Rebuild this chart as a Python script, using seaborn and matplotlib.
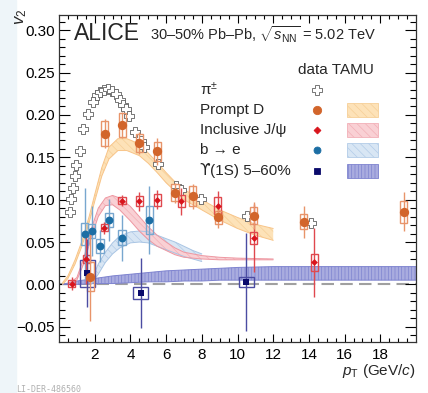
import matplotlib
matplotlib.use("Agg")
import matplotlib.pyplot as plt
from matplotlib.patches import Rectangle
import pandas as pd
import seaborn as sns

# pi+- data (open crosses)
pi_pt = [0.59, 0.70, 0.81, 0.87, 0.98, 1.15, 1.37, 1.65, 1.93, 2.15, 2.32, 2.54, 2.77, 2.99,
         3.21, 3.44, 3.60, 3.77, 3.94, 4.27, 4.61, 4.78, 5.56, 6.56, 6.84, 7.96, 10.53, 14.10]
pi_v2 = [0.086, 0.101, 0.114, 0.128, 0.141, 0.158, 0.184, 0.201, 0.215, 0.224, 0.227, 0.229, 0.231, 0.228,
         0.225, 0.218, 0.212, 0.207, 0.199, 0.180, 0.169, 0.162, 0.142, 0.116, 0.112, 0.101, 0.081, 0.072]

# prompt D
d_pt = [1.76, 2.56, 3.55, 4.50, 5.50, 6.50, 7.50, 8.93, 10.90, 13.70, 19.30]
d_v2 = [0.009, 0.178, 0.188, 0.167, 0.157, 0.108, 0.104, 0.079, 0.081, 0.074, 0.086]
d_stat = [0.052, 0.017, 0.015, 0.013, 0.016, 0.012, 0.015, 0.012, 0.016, 0.019, 0.023]
d_syst = [0.017, 0.015, 0.014, 0.011, 0.011, 0.010, 0.012, 0.008, 0.010, 0.009, 0.013]

# inclusive J/psi
j_pt = [0.72, 1.52, 2.53, 3.53, 4.50, 5.50, 6.85, 8.90, 10.90, 14.30]
j_v2 = [0.001, 0.030, 0.067, 0.099, 0.098, 0.100, 0.098, 0.093, 0.055, 0.026]
j_stat = [0.008, 0.030, 0.007, 0.007, 0.011, 0.011, 0.016, 0.017, 0.040, 0.041]
j_syst = [0.004, 0.005, 0.004, 0.004, 0.006, 0.007, 0.007, 0.010, 0.007, 0.010]

# b -> e
b_pt = [1.45, 1.83, 2.30, 2.80, 3.53, 5.07]
b_v2 = [0.059, 0.063, 0.045, 0.076, 0.055, 0.076]
b_stat = [0.055, 0.030, 0.019, 0.025, 0.027, 0.040]
b_syst = [0.013, 0.008, 0.008, 0.008, 0.009, 0.017]

# Upsilon(1S) 5-60%
u_pt = [1.58, 4.57, 10.50]
u_v2 = [0.013, -0.010, 0.003]
u_stat = [0.040, 0.041, 0.058]
u_syst = [0.016, 0.007, 0.006]

# TAMU bands
tamu_d_pt = [0.2, 0.5, 0.9, 1.3, 1.7, 2.0, 2.4, 2.8, 3.3, 3.8, 4.5, 5.0, 5.5, 6.0, 6.5, 7.0, 8.0, 9.0, 10.0, 11.0, 12.0]
tamu_d_lo = [0.000, 0.007, 0.024, 0.046, 0.074, 0.098, 0.128, 0.148, 0.158, 0.158, 0.152, 0.143, 0.132, 0.120,
             0.110, 0.100, 0.088, 0.076, 0.066, 0.058, 0.052]
tamu_d_hi = [0.002, 0.010, 0.029, 0.052, 0.081, 0.106, 0.138, 0.162, 0.172, 0.172, 0.166, 0.155, 0.144, 0.132,
             0.121, 0.112, 0.100, 0.088, 0.079, 0.071, 0.066]

tamu_j_pt = [0.6, 1.0, 1.4, 1.8, 2.2, 2.6, 3.0, 3.4, 4.0, 4.5, 5.0, 5.5, 6.0, 6.5, 7.0, 8.0, 9.0, 10.0, 12.0]
tamu_j_lo = [0.000, 0.005, 0.025, 0.055, 0.080, 0.093, 0.094, 0.088, 0.075, 0.063, 0.053, 0.045, 0.040, 0.035,
             0.032, 0.030, 0.029, 0.029, 0.029]
tamu_j_hi = [0.002, 0.008, 0.032, 0.065, 0.090, 0.102, 0.105, 0.102, 0.092, 0.080, 0.068, 0.058, 0.050, 0.043,
             0.038, 0.034, 0.032, 0.031, 0.030]

tamu_b_pt = [1.8, 2.2, 2.6, 3.0, 3.4, 4.0, 4.5, 5.0, 5.5, 6.0, 6.5, 7.0, 7.5, 8.0]
tamu_b_lo = [0.000, 0.012, 0.026, 0.036, 0.043, 0.049, 0.050, 0.049, 0.045, 0.041, 0.037, 0.033, 0.030, 0.027]
tamu_b_hi = [0.004, 0.024, 0.038, 0.049, 0.057, 0.062, 0.063, 0.062, 0.058, 0.054, 0.050, 0.045, 0.040, 0.036]

tamu_u_pt = [0.2, 1.0, 2.0, 3.0, 4.0, 5.0, 6.0, 7.0, 8.0, 9.0, 10.0, 12.0, 14.0, 16.0, 18.0, 20.0]
tamu_u_lo = [0.000, 0.000, 0.001, 0.001, 0.002, 0.003, 0.003, 0.004, 0.004, 0.005, 0.005, 0.005, 0.005, 0.005, 0.005, 0.005]
tamu_u_hi = [0.000, 0.004, 0.007, 0.010, 0.012, 0.014, 0.016, 0.017, 0.018, 0.019, 0.020, 0.021, 0.021, 0.021, 0.021, 0.021]

sns.set_theme(style="ticks")
plt.rcParams['font.family'] = ['Liberation Sans', 'DejaVu Sans']
plt.rcParams['mathtext.fontset'] = 'custom'
plt.rcParams['mathtext.rm'] = 'Liberation Sans'
plt.rcParams['mathtext.it'] = 'Liberation Sans:italic'
plt.rcParams['hatch.linewidth'] = 0.5

W, H = 428, 393
fig = plt.figure(figsize=(W / 100, H / 100), dpi=100)
fig.patch.set_facecolor('white')
fig.patches.append(Rectangle((0, 0), 16 / W, 1, transform=fig.transFigure, color='#eef5f9', zorder=-10))
ax = fig.add_axes([59 / W, 1 - 342 / H, 357 / W, 327 / H])

# colours: (marker, box/err, band fill, band hatch, band edge)
col_d = ('#d2652b', '#e8946a', '#fde2b8', '#f6cf98', '#f8c488')
col_j = ('#d8141c', '#e0484e', '#f9d0d4', '#f2b0b7', '#ee98a2')
col_b = ('#1c6ea4', '#78a7cf', '#d8e6f4', '#b3cce8', '#a9c5e4')
col_u = ('#0b0b6b', '#4b4ca2', '#a9acdf', '#7e83cf', '#7e83cf')

ax.axhline(0, color='#a0a0a0', lw=1.5, ls=(0, (6, 3)), zorder=0.5)

HATCH = '\\\\\\\\'


def band(xs, lo, hi, cols, hatch):
    ax.fill_between(xs, lo, hi, facecolor=cols[2], edgecolor=cols[3], hatch=hatch, lw=0, zorder=1)
    ax.plot(xs, lo, color=cols[4], lw=0.7, zorder=1.1)
    ax.plot(xs, hi, color=cols[4], lw=0.7, zorder=1.1)


band(tamu_u_pt, tamu_u_lo, tamu_u_hi, col_u, '|||||')
band(tamu_b_pt, tamu_b_lo, tamu_b_hi, col_b, HATCH)
band(tamu_j_pt, tamu_j_lo, tamu_j_hi, col_j, HATCH)
band(tamu_d_pt, tamu_d_lo, tamu_d_hi, col_d, HATCH)


def points(xs, ys, stat, syst, cols, marker, size, hw):
    for x, y, s in zip(xs, ys, syst):
        ax.add_patch(Rectangle((x - hw, y - s), 2 * hw, 2 * s, fill=False,
                               edgecolor=cols[1], lw=1.0, zorder=3))
    ax.errorbar(xs, ys, yerr=stat, fmt='none', ecolor=cols[1], elinewidth=1.0, capsize=0, zorder=3.5)
    df = pd.DataFrame({'pt': xs, 'v2': ys})
    sns.scatterplot(data=df, x='pt', y='v2', ax=ax, marker=marker, s=size, color=cols[0],
                    edgecolor=cols[0], linewidth=0, zorder=4, legend=False)


# pions
pi_df = pd.DataFrame({'pt': pi_pt, 'v2': pi_v2})
sns.scatterplot(data=pi_df, x='pt', y='v2', ax=ax, marker='P', s=45, color='white',
                edgecolor='#606060', linewidth=0.6, zorder=2.5, legend=False)

points(u_pt, u_v2, u_stat, u_syst, col_u, 's', 22, 0.42)
points(b_pt, b_v2, b_stat, b_syst, col_b, 'o', 32, 0.2)
points(j_pt, j_v2, j_stat, j_syst, col_j, 'D', 12, 0.2)
points(d_pt, d_v2, d_stat, d_syst, col_d, 'o', 45, 0.2)

ax.set_xlim(0, 20)
ax.set_ylim(-0.068, 0.318)
ax.set_xticks([2, 4, 6, 8, 10, 12, 14, 16, 18])
ax.set_xticks([x / 2 for x in range(1, 40)], minor=True)
ax.set_yticks([-0.05, 0.0, 0.05, 0.10, 0.15, 0.20, 0.25, 0.30])
ax.set_yticklabels(['\u22120.05', '0.00', '0.05', '0.10', '0.15', '0.20', '0.25', '0.30'])
ax.set_yticks([y / 100 for y in range(-6, 32)], minor=True)
ax.tick_params(which='both', direction='in', top=True, right=True, width=0.8, labelsize=11, colors='black')
ax.tick_params(axis='x', which='major', length=6, pad=4)
ax.tick_params(axis='x', which='minor', length=3)
ax.tick_params(axis='y', which='major', length=8, pad=3)
ax.tick_params(axis='y', which='minor', length=4)
for sp in ax.spines.values():
    sp.set_linewidth(0.9)
    sp.set_color('#333333')

ax.set_xlabel(r'$p_{\rm T}$ (GeV/$c$)', fontsize=11, loc='right')
ax.xaxis.set_label_coords(1.0, -0.06)
ax.set_ylabel(r'$v_2$', fontsize=12, loc='top')
ax.yaxis.set_label_coords(-0.085, 1.02)


def fx(px):
    return px / W


def fy(py):
    return 1 - py / H


fig.text(fx(74), fy(40), 'ALICE', fontsize=16.5, va='baseline', ha='left')
fig.text(fx(150), fy(40), r'30–50% Pb–Pb, $\sqrt{s_{\rm NN}}$ = 5.02 TeV', fontsize=10.5,
         va='baseline', ha='left')
fig.text(fx(298), fy(70), 'data TAMU', fontsize=11, va='center', ha='left')

rows = [('π$^{\\pm}$', 90), ('Prompt D', 110), ('Inclusive J/ψ', 130), ('b → e', 150)]
for lab, py in rows:
    fig.text(fx(200), fy(py), lab, fontsize=11, va='center', ha='left')
# upsilon glyph with hooked arms, then the rest of the label
fig.text(fx(199), fy(171), '\u03d2', fontsize=11, va='center', ha='left', family='DejaVu Sans')
fig.text(fx(210), fy(171), '(1S) 5–60%', fontsize=11, va='center', ha='left')

leg_marks = [('P', 'white', '#606060', 6.5, 90), ('o', col_d[0], col_d[0], 6, 110),
             ('D', col_j[0], col_j[0], 3.5, 130), ('o', col_b[0], col_b[0], 5, 150),
             ('s', col_u[0], col_u[0], 4.5, 171)]
for m, fc, ec, ms, py in leg_marks:
    fig.add_artist(plt.Line2D([fx(317)], [fy(py)], marker=m, markersize=ms, markerfacecolor=fc,
                              markeredgecolor=ec, markeredgewidth=0.6, transform=fig.transFigure))

for cols, py, hatch in [(col_d, 110, HATCH), (col_j, 130, HATCH),
                        (col_b, 150, HATCH), (col_u, 171, '|||||')]:
    fig.patches.append(Rectangle((fx(347), fy(py + 7)), 31 / W, 14 / H, transform=fig.transFigure,
                                 facecolor=cols[2], edgecolor=cols[3], hatch=hatch, lw=0.6))

fig.text(fx(16), fy(390), 'LI-DER-486560', fontsize=6, color='#b0b0b0', family='DejaVu Sans Mono',
         va='center', ha='left')

fig.savefig('out.png', dpi=100)
